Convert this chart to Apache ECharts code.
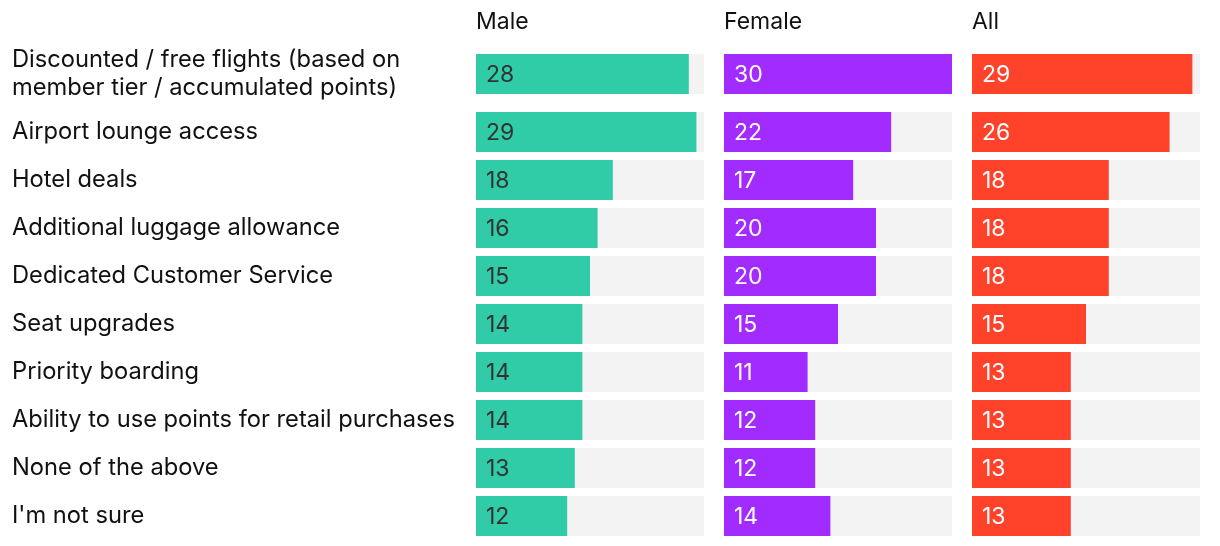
<!DOCTYPE html>
<html>
<head>
<meta charset="utf-8">
<script src="https://cdn.jsdelivr.net/npm/echarts@6/dist/echarts.min.js"></script>
<style>html,body{margin:0;padding:0;background:#fff}#c{width:1220px;height:546px}</style>
</head>
<body>
<div id="c"></div>
<script>
const categories = [
  "Discounted / free flights (based on\nmember tier / accumulated points)",
  "Airport lounge access",
  "Hotel deals",
  "Additional luggage allowance",
  "Dedicated Customer Service",
  "Seat upgrades",
  "Priority boarding",
  "Ability to use points for retail purchases",
  "None of the above",
  "I'm not sure"
];
const panelNames = ["Male", "Female", "All"];
const male   = [28, 29, 18, 16, 15, 14, 14, 14, 13, 12];
const female = [30, 22, 17, 20, 20, 15, 11, 12, 12, 14];
const all    = [29, 26, 18, 18, 18, 15, 13, 13, 13, 13];

const seriesData = [male, female, all];
const colors = ["#30cba7", "#a22bff", "#ff432b"];
const labelColors = ["#333333", "#ffffff", "#ffffff"];
const lefts = [476, 724, 972];
const FONT = "Inter, 'Noto Sans', sans-serif";

const grids = [], xAxes = [], yAxes = [], series = [], titles = [];
const groups = [{start: 0, end: 1, top: 50, height: 48}, {start: 1, end: 10, top: 108, height: 432}];
let gi = 0;
for (let c = 0; c < 3; c++) {
  titles.push({text: panelNames[c], left: lefts[c], top: 11, padding: 0,
    textStyle: {fontFamily: FONT, fontSize: 23, fontWeight: 'normal', color: '#111'}});
  groups.forEach(g => {
    grids.push({left: lefts[c], top: g.top, width: 228, height: g.height, containLabel: false});
    xAxes.push({type: 'value', gridIndex: gi, min: 0, max: 30, show: false});
    yAxes.push({type: 'category', gridIndex: gi, inverse: true,
      data: categories.slice(g.start, g.end),
      axisLine: {show: false}, axisTick: {show: false}, splitLine: {show: false},
      axisLabel: {show: c === 0, align: 'left', margin: 464, fontFamily: FONT, fontSize: 23.7,
        color: '#111', lineHeight: 28, padding: [4, 0, 0, 0]}});
    series.push({type: 'bar', xAxisIndex: gi, yAxisIndex: gi, barWidth: 40,
      data: seriesData[c].slice(g.start, g.end),
      itemStyle: {color: colors[c]},
      showBackground: true, backgroundStyle: {color: '#f3f3f3'},
      label: {show: true, position: 'insideLeft', distance: 10, offset: [0, 1], fontFamily: FONT, fontSize: 23,
        color: labelColors[c]},
      silent: true, animation: false});
    gi++;
  });
}

const chart = echarts.init(document.getElementById('c'));
chart.setOption({animation: false, title: titles, grid: grids, xAxis: xAxes, yAxis: yAxes, series: series});
</script>
</body>
</html>
